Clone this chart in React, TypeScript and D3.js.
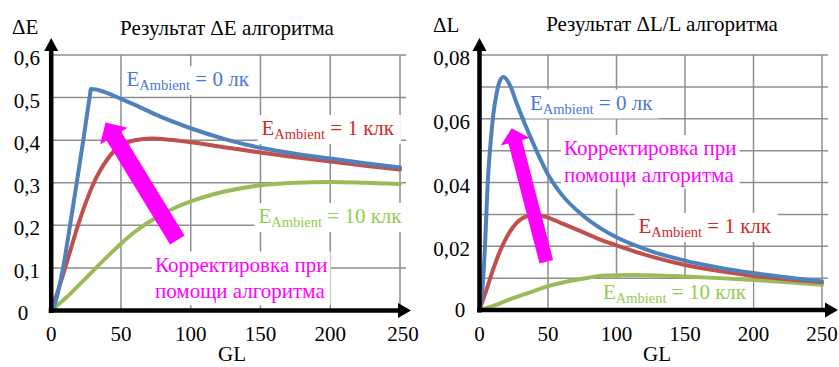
import React, { useEffect, useRef } from "react";
import * as d3 from "d3";

// ---------- data ----------
const glTicks = [0, 50, 100, 150, 200, 250];
const glGrid = [50, 100, 150, 200, 250];

const dEGrid = [0.1, 0.2, 0.3, 0.4, 0.5, 0.6];
const dETicks = [0.1, 0.2, 0.3, 0.4, 0.5, 0.6];
const dETickLabels = ["0,1", "0,2", "0,3", "0,4", "0,5", "0,6"];

const dLGrid = [0.01, 0.02, 0.03, 0.04, 0.05, 0.06, 0.07, 0.08];
const dLTicks = [0.02, 0.04, 0.06, 0.08];
const dLTickLabels = ["0,02", "0,04", "0,06", "0,08"];

// ΔE, E_Ambient = 0 лк
const dE0_gl = [0, 2, 8.5, 13.5, 18.3, 23, 27.5, 28.5, 32, 40, 50, 60, 75, 100, 125, 150, 175, 200, 225, 250];
const dE0_v = [0, 0.01, 0.1, 0.2, 0.3, 0.4, 0.5, 0.52, 0.519, 0.511, 0.497, 0.483, 0.46, 0.428, 0.402, 0.382, 0.368, 0.357, 0.346, 0.336];
// ΔE, E_Ambient = 1 клк
const dE1_gl = [0, 5, 10, 15, 20, 25, 30, 35, 40, 45, 50, 60, 72, 85, 100, 125, 150, 175, 200, 225, 250];
const dE1_v = [0, 0.048, 0.1, 0.155, 0.208, 0.255, 0.296, 0.328, 0.354, 0.374, 0.388, 0.4, 0.404, 0.401, 0.395, 0.383, 0.371, 0.36, 0.35, 0.34, 0.331];
// ΔE, E_Ambient = 10 клк
const dE10_gl = [0, 10, 20, 30, 40, 50, 60, 75, 90, 100, 125, 150, 175, 200, 225, 250];
const dE10_v = [0, 0.028, 0.06, 0.093, 0.126, 0.157, 0.185, 0.218, 0.243, 0.256, 0.28, 0.294, 0.3, 0.302, 0.3, 0.297];

// ΔL/L, E_Ambient = 0 лк
const dL0_gl = [0, 2, 4, 6, 8, 10, 12.5, 15, 17.5, 20, 22.8, 27, 32, 40, 50, 60, 75, 90, 100, 125, 150, 175, 200, 225, 250];
const dL0_v = [0, 0.006, 0.02, 0.04, 0.052, 0.061, 0.068, 0.072, 0.0731, 0.0722, 0.07, 0.065, 0.0595, 0.0515, 0.0425, 0.0362, 0.0298, 0.0252, 0.0228, 0.0185, 0.0155, 0.0133, 0.0116, 0.0102, 0.009];
// ΔL/L, E_Ambient = 1 клк
const dL1_gl = [0, 5, 10, 15, 20, 25, 30, 35, 40, 45, 50, 60, 75, 90, 100, 125, 150, 175, 200, 225, 250];
const dL1_v = [0, 0.0062, 0.0128, 0.0185, 0.023, 0.0263, 0.0284, 0.0295, 0.0298, 0.0296, 0.029, 0.0272, 0.0245, 0.0218, 0.0203, 0.0168, 0.0141, 0.0122, 0.0107, 0.0096, 0.0087];
// ΔL/L, E_Ambient = 10 клк
const dL10_gl = [0, 10, 25, 40, 50, 75, 92, 110, 125, 150, 175, 200, 225, 250];
const dL10_v = [0, 0.0013, 0.0038, 0.006, 0.0075, 0.0098, 0.0108, 0.011, 0.0109, 0.0105, 0.01, 0.0094, 0.0087, 0.0079];

const FONT = "Liberation Serif, DejaVu Serif, Noto Serif, Times New Roman, serif";
const C_BLUE = "#4F81BD";
const C_RED = "#C0504D";
const C_GREEN = "#9BBB59";
const T_BLUE = "#4A76DA";
const T_RED = "#D02A2A";
const T_GREEN = "#92CC50";
const MAGENTA = "#FF00FF";
const GRID = "#8E8E8E";

type Panel = {
  x0: number; x1: number; y0: number; y1: number;
  yMax: number;
  grid: number[]; ticks: number[]; tickLabels: string[];
  gridRight: number;
  title: string; titleX: number; titleY: number;
  yName: string; yNameX: number; yNameY: number;
  zeroX: number; zeroY: number;
  labelRight: number;
  lastTickShift: number;
  glX: number; glY: number;
  xArrowTip: number;
  series: { gl: number[]; v: number[]; color: string }[];
  labels: { x: number; y: number; color: string; rest: string }[];
  note: { x: number; y: number };
  arrow: { tail: [number, number]; tip: [number, number]; shaft: number; headW: number; headL: number };
};

const panels: Panel[] = [
  {
    x0: 51.2, x1: 400, y0: 310.5, y1: 55, yMax: 0.6,
    grid: dEGrid, ticks: dETicks, tickLabels: dETickLabels,
    gridRight: 406,
    title: "Результат ΔE алгоритма", titleX: 227, titleY: 35,
    yName: "ΔE", yNameX: 12, yNameY: 34,
    zeroX: 23, zeroY: 320,
    labelRight: 40,
    lastTickShift: 3,
    glX: 232, glY: 361,
    xArrowTip: 411,
    series: [
      { gl: dE10_gl, v: dE10_v, color: C_GREEN },
      { gl: dE1_gl, v: dE1_v, color: C_RED },
      { gl: dE0_gl, v: dE0_v, color: C_BLUE },
    ],
    labels: [
      { x: 126.5, y: 86, color: T_BLUE, rest: " = 0 лк" },
      { x: 261.5, y: 135, color: T_RED, rest: " = 1 клк" },
      { x: 258.5, y: 223, color: T_GREEN, rest: " = 10 клк" },
    ],
    note: { x: 155, y: 271.5 },
    arrow: { tail: [177.3, 240], tip: [105.5, 122.5], shaft: 17, headW: 32, headL: 16 },
  },
  {
    x0: 479.5, x1: 822, y0: 310, y1: 55, yMax: 0.08,
    grid: dLGrid, ticks: dLTicks, tickLabels: dLTickLabels,
    gridRight: 828,
    title: "Результат ΔL/L алгоритма", titleX: 662, titleY: 31,
    yName: "ΔL", yNameX: 433, yNameY: 32,
    zeroX: 460, zeroY: 317,
    labelRight: 470,
    lastTickShift: 0,
    glX: 657, glY: 361,
    xArrowTip: 838,
    series: [
      { gl: dL10_gl, v: dL10_v, color: C_GREEN },
      { gl: dL1_gl, v: dL1_v, color: C_RED },
      { gl: dL0_gl, v: dL0_v, color: C_BLUE },
    ],
    labels: [
      { x: 530, y: 109.5, color: T_BLUE, rest: " = 0 лк" },
      { x: 638.5, y: 233, color: T_RED, rest: " = 1 клк" },
      { x: 603, y: 299, color: T_GREEN, rest: " = 10 клк" },
    ],
    note: { x: 564, y: 155 },
    arrow: { tail: [546.3, 261.7], tip: [511.7, 128.3], shaft: 14, headW: 30, headL: 14 },
  },
];

function arrowPoints(a: Panel["arrow"]): [number, number][] {
  const [tx, ty] = a.tail;
  const [hx, hy] = a.tip;
  const len = Math.hypot(hx - tx, hy - ty);
  const ux = (hx - tx) / len, uy = (hy - ty) / len;
  const nx = -uy, ny = ux;
  const bx = hx - ux * a.headL, by = hy - uy * a.headL;
  const s = a.shaft / 2, h = a.headW / 2;
  return [
    [tx + nx * s, ty + ny * s],
    [bx + nx * s, by + ny * s],
    [bx + nx * h, by + ny * h],
    [hx, hy],
    [bx - nx * h, by - ny * h],
    [bx - nx * s, by - ny * s],
    [tx - nx * s, ty - ny * s],
  ];
}

export default function App() {
  const ref = useRef<SVGSVGElement>(null);

  useEffect(() => {
    const svg = d3.select(ref.current);
    svg.selectAll("*").remove();

    panels.forEach((p) => {
      const x = d3.scaleLinear().domain([0, 250]).range([p.x0, p.x1]);
      const y = d3.scaleLinear().domain([0, p.yMax]).range([p.y0, p.y1]);
      const g = svg.append("g");

      // grid
      g.selectAll("line.h").data(p.grid).enter().append("line")
        .attr("x1", p.x0).attr("x2", p.gridRight)
        .attr("y1", (d) => y(d)).attr("y2", (d) => y(d))
        .attr("stroke", GRID).attr("stroke-width", 1.5);
      g.selectAll("line.v").data(glGrid).enter().append("line")
        .attr("x1", (d) => x(d)).attr("x2", (d) => x(d))
        .attr("y1", y(p.yMax)).attr("y2", p.y0)
        .attr("stroke", GRID).attr("stroke-width", 1.5);

      const boxLayer = g.append("g");
      const curveLayer = g.append("g");
      const textLayer = g.append("g");

      // curves
      const line = d3.line<[number, number]>()
        .x((d) => x(d[0])).y((d) => y(d[1]))
        .curve(d3.curveMonotoneX);
      p.series.forEach((s) => {
        const pts = s.gl.map((gl, i) => [gl, s.v[i]] as [number, number]);
        curveLayer.append("path").attr("d", line(pts) as string)
          .attr("fill", "none").attr("stroke", s.color)
          .attr("stroke-width", 4).attr("stroke-linejoin", "round").attr("stroke-linecap", "round");
      });

      // axes
      g.append("line").attr("x1", x(0)).attr("x2", x(0))
        .attr("y1", p.y0 + 2.5).attr("y2", 48)
        .attr("stroke", "#000").attr("stroke-width", 4.5);
      g.append("path")
        .attr("d", `M${x(0)},38 L${x(0) - 7},51 L${x(0) + 7},51 Z`).attr("fill", "#000");
      g.append("line").attr("x1", x(0) - 2.5).attr("x2", p.xArrowTip - 10)
        .attr("y1", p.y0).attr("y2", p.y0)
        .attr("stroke", "#000").attr("stroke-width", 4.5);
      g.append("path")
        .attr("d", `M${p.xArrowTip},${p.y0} L${p.xArrowTip - 13},${p.y0 - 7.5} L${p.xArrowTip - 13},${p.y0 + 7.5} Z`)
        .attr("fill", "#000");

      const txt = (sel: any) => sel.style("font-family", FONT).attr("font-size", 21).attr("fill", "#000");

      // tick labels
      p.ticks.forEach((t, i) => {
        txt(g.append("text")).attr("x", p.labelRight).attr("y", y(t) + 10)
          .attr("text-anchor", "end").text(p.tickLabels[i]);
      });
      txt(g.append("text")).attr("x", p.zeroX).attr("y", p.zeroY).attr("text-anchor", "middle").text("0");
      glTicks.forEach((t) => {
        txt(g.append("text")).attr("x", x(t) + (t === 250 ? p.lastTickShift : 0)).attr("y", 341)
          .attr("text-anchor", "middle").text(String(t));
      });
      txt(g.append("text")).attr("x", p.glX).attr("y", p.glY).attr("text-anchor", "middle").text("GL");
      txt(g.append("text")).attr("x", p.titleX).attr("y", p.titleY).attr("text-anchor", "middle").text(p.title);
      txt(g.append("text")).attr("x", p.yNameX).attr("y", p.yNameY).text(p.yName);

      // series labels
      p.labels.forEach((l) => {
        const t = textLayer.append("text").attr("x", l.x).attr("y", l.y)
          .style("font-family", FONT).attr("font-size", 21).attr("fill", l.color)
          .style("white-space", "pre");
        t.append("tspan").text("E");
        t.append("tspan").attr("font-size", 14.5).attr("dy", 4).text("Ambient");
        t.append("tspan").attr("dy", -4).text(l.rest);
        const bb = (t.node() as SVGTextElement).getBBox();
        boxLayer.append("rect").attr("x", bb.x - 4).attr("y", bb.y - 1)
          .attr("width", bb.width + 10).attr("height", bb.height + 3).attr("fill", "#fff");
      });

      // note
      const note = textLayer.append("text").style("font-family", FONT).attr("font-size", 21)
        .attr("fill", MAGENTA);
      note.append("tspan").attr("x", p.note.x).attr("y", p.note.y).text("Корректировка при");
      note.append("tspan").attr("x", p.note.x).attr("y", p.note.y + 26.7).text("помощи алгоритма");
      const nb = (note.node() as SVGTextElement).getBBox();
      boxLayer.append("rect").attr("x", nb.x - 3).attr("y", nb.y - 1)
        .attr("width", nb.width + 6).attr("height", nb.height + 3).attr("fill", "#fff");

      // magenta arrow
      g.append("polygon")
        .attr("points", arrowPoints(p.arrow).map((q) => q.join(",")).join(" "))
        .attr("fill", MAGENTA);
    });
  }, []);

  return (
    <svg ref={ref} width={839} height={367}
      style={{ position: "absolute", left: 0, top: 0, background: "#fff" }} />
  );
}
